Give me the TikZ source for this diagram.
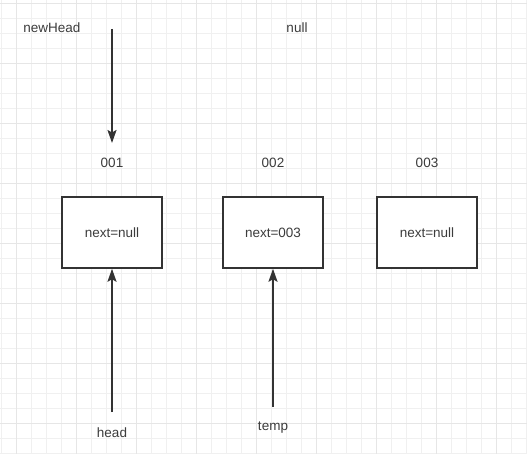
\documentclass[tikz,border=0pt]{standalone}
\usepackage{fontspec}
\setmainfont{Liberation Sans}
\usetikzlibrary{arrows.meta}
\definecolor{ink}{HTML}{333333}
\definecolor{txt}{HTML}{3C3C3C}
\definecolor{minorgrid}{HTML}{F0F0F0}
\definecolor{majorgrid}{HTML}{E6E6E6}
\tikzset{
  lbl/.style={font=\fontsize{13.5}{15}\selectfont, text=txt, inner sep=0pt},
  nodebox/.style={draw=ink, line width=2pt, fill=white, minimum width=100pt, minimum height=70.5pt, inner sep=0pt, font=\fontsize{13.5}{15}\selectfont, text=txt},
  ptr/.style={draw=ink, line width=2pt, -{Stealth[length=13pt,width=9pt,inset=2.5pt]}},
}
\begin{document}
\begin{tikzpicture}[x=1pt,y=-1pt]
\useasboundingbox (0,0) rectangle (527,454);
\fill[white] (0,0) rectangle (527,454);
% minor grid
\foreach \i in {0,...,35} {
  \draw[minorgrid, line width=1pt] ({1.7+15*\i},0) -- ({1.7+15*\i},454);
}
\foreach \j in {0,...,30} {
  \draw[minorgrid, line width=1pt] (0,{3.3+15*\j}) -- (527,{3.3+15*\j});
}
% major grid
\foreach \i in {0,...,8} {
  \draw[majorgrid, line width=1pt] ({16.7+60*\i},0) -- ({16.7+60*\i},454);
}
\foreach \j in {0,...,7} {
  \draw[majorgrid, line width=1pt] (0,{3.3+60*\j}) -- (527,{3.3+60*\j});
}
% labels
\node[lbl] (newhead) at (52,28) {newHead};
\node[lbl] (null) at (297,28) {null};
\node[lbl] (l1) at (112,163) {001};
\node[lbl] (l2) at (273,163) {002};
\node[lbl] (l3) at (427,163) {003};
% boxes
\node[nodebox] (b1) at (112,232.5) {next=null};
\node[nodebox] (b2) at (273,232.5) {next=003};
\node[nodebox] (b3) at (427,232.5) {next=null};
% bottom labels
\node[lbl] (head) at (112,433) {head};
\node[lbl] (temp) at (273,428) {temp};
% pointer coordinates
\coordinate (nhs) at (112,29);
\coordinate (nhe) at (112,143);
\coordinate (hs) at (112,412);
\coordinate (ts) at (273,407);
\draw[ptr] (nhs) -- (nhe);
\draw[ptr] (hs) -- (b1.south);
\draw[ptr] (ts) -- (b2.south);
\end{tikzpicture}
\end{document}
